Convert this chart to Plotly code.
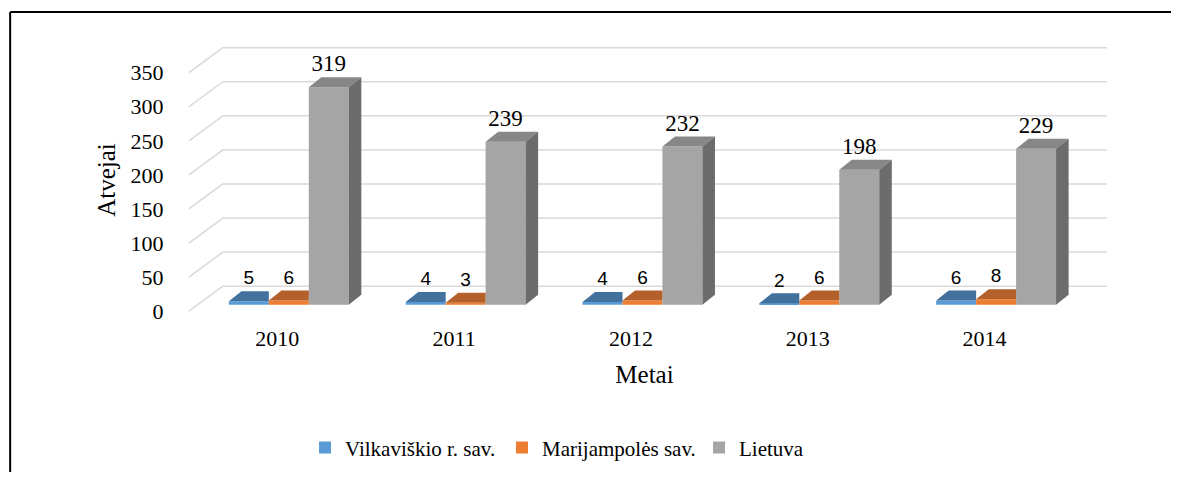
import plotly.graph_objects as go

# data
years = ['2010', '2011', '2012', '2013', '2014']
vilkaviskio = [5, 4, 4, 2, 6]
marijampoles = [6, 3, 6, 6, 8]
lietuva = [319, 239, 232, 198, 229]
y_ticks = [0, 50, 100, 150, 200, 250, 300, 350]

series = [
    ('Vilkaviškio r. sav.', vilkaviskio, '#5B9BD5', '#41719C'),
    ('Marijampolės sav.', marijampoles, '#ED7D31', '#B4602A'),
    ('Lietuva', lietuva, '#A5A5A5', '#878787'),
]
side_color = '#6C6C6C'

SERIF = 'Liberation Serif'
SANS = 'Liberation Sans'

# pseudo-3d geometry (data units)
bar_w = 0.226          # width of one bar
first_off = -0.161     # centre of first bar relative to category
base = 9.5             # bars stand a bit behind the front floor edge
depth_dx, depth_dy = 0.071, 14.7   # depth of each bar
floor_dx, floor_dy = 0.192, 36.7   # depth of the floor / walls
label_gap = 17

fig = go.Figure()

n_series = len(series)
for k, (name, vals, c_front, c_top) in enumerate(series):
    xs = [i + first_off + k * bar_w for i in range(len(years))]
    fig.add_trace(go.Bar(
        x=xs, y=vals, base=[base] * len(vals), width=bar_w,
        name=name, marker=dict(color=c_front, line=dict(width=0)),
        hoverinfo='skip'
    ))

for k, (name, vals, c_front, c_top) in enumerate(series):
    last = k == n_series - 1
    for i, v in enumerate(vals):
        xc = i + first_off + k * bar_w
        xl, xr = xc - bar_w / 2, xc + bar_w / 2
        yt = base + v
        # top face (clipped where the next bar hides it)
        if last:
            tx = [xl, xr, xr + depth_dx, xl + depth_dx, xl]
        else:
            tx = [xl, xr, xr, xl + depth_dx, xl]
        ty = [yt, yt, yt + depth_dy, yt + depth_dy, yt]
        fig.add_trace(go.Scatter(
            x=tx, y=ty, fill='toself', fillcolor=c_top, mode='lines',
            line=dict(width=0, color=c_top), showlegend=False, hoverinfo='skip'
        ))
        if last:
            sx = [xr, xr, xr + depth_dx, xr + depth_dx, xr]
            sy = [base, yt, yt + depth_dy, base + depth_dy, base]
            fig.add_trace(go.Scatter(
                x=sx, y=sy, fill='toself', fillcolor=side_color, mode='lines',
                line=dict(width=0, color=side_color), showlegend=False, hoverinfo='skip'
            ))
    # value labels
    fig.add_trace(go.Scatter(
        x=[i + first_off + k * bar_w for i in range(len(vals))],
        y=[base + v + depth_dy + label_gap for v in vals],
        mode='text', text=[str(v) for v in vals], textposition='middle center',
        textfont=dict(family=SERIF if last else SANS, size=23 if last else 19, color='#000000'),
        showlegend=False, hoverinfo='skip'
    ))

# perspective gridlines
shapes = []
for t in y_ticks:
    shapes.append(dict(type='line', xref='x', yref='y', layer='below',
                       x0=-0.5, y0=t, x1=-0.5 + floor_dx, y1=t + floor_dy,
                       line=dict(color='#D9D9D9', width=1.5)))
    shapes.append(dict(type='line', xref='x', yref='y', layer='below',
                       x0=-0.5 + floor_dx, y0=t + floor_dy,
                       x1=len(years) - 0.5 + floor_dx, y1=t + floor_dy,
                       line=dict(color='#D9D9D9', width=1.5)))
# chart border: only the top and left edges are inside the picture
shapes.append(dict(type='line', xref='paper', yref='paper',
                   x0=-0.177, y0=1.109, x1=1.2, y1=1.109,
                   line=dict(color='#000000', width=2)))
shapes.append(dict(type='line', xref='paper', yref='paper',
                   x0=-0.177, y0=1.109, x1=-0.177, y1=-0.75,
                   line=dict(color='#000000', width=2)))

fig.update_layout(
    width=1163, height=464,
    margin=dict(l=168, r=58, t=34, b=154, autoexpand=False),
    plot_bgcolor='white', paper_bgcolor='white',
    barmode='overlay',
    shapes=shapes,
    font=dict(family=SERIF, color='#000000'),
    xaxis=dict(
        range=[-0.573, 4.726], tickvals=list(range(len(years))), ticktext=years,
        showgrid=False, zeroline=False, showline=False,
        ticks='outside', ticklen=1, tickcolor='rgba(0,0,0,0)',
        tickfont=dict(family=SERIF, size=22),
        title=dict(text='Metai', font=dict(family=SERIF, size=25), standoff=15),
    ),
    yaxis=dict(
        range=[-10, 395], tickvals=y_ticks,
        showgrid=False, zeroline=False, showline=False,
        ticks='outside', ticklen=7, tickcolor='rgba(0,0,0,0)',
        tickfont=dict(family=SERIF, size=22),
        title=dict(text='Atvejai', font=dict(family=SERIF, size=25), standoff=7),
    ),
    legend=dict(
        orientation='h', xref='container', yref='container',
        x=0.2554, xanchor='left', y=0.052, yanchor='middle',
        font=dict(family=SERIF, size=21),
        entrywidth=152, entrywidthmode='pixels',
        traceorder='normal'
    ),
    hovermode=False,
)

fig.write_html('out.html')
